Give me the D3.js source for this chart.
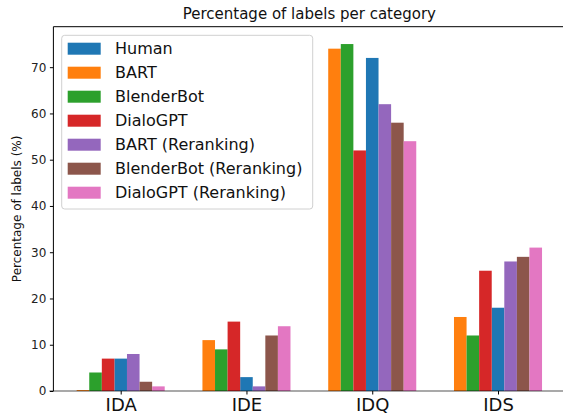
<!DOCTYPE html>
<html>
<head>
<meta charset="utf-8">
<script src="https://cdn.jsdelivr.net/npm/d3@7"></script>
<style>
  body { margin: 0; background: #fff; }
  svg { display: block; font-family: "DejaVu Sans", sans-serif; }
</style>
</head>
<body>
<svg id="chart" width="563" height="419"></svg>
<script>
var categories = ["IDA", "IDE", "IDQ", "IDS"]
var seriesNames = ["Human", "BART", "BlenderBot", "DialoGPT", "BART (Reranking)", "BlenderBot (Reranking)", "DialoGPT (Reranking)"]
var human = [7, 3, 72, 18]
var bart = [0.2, 11, 74, 16]
var blenderbot = [4, 9, 75, 12]
var dialogpt = [7, 15, 52, 26]
var bartRerank = [8, 1, 62, 28]
var blenderbotRerank = [2, 12, 58, 29]
var dialogptRerank = [1, 14, 54, 31]
var yTicks = [0, 10, 20, 30, 40, 50, 60, 70]

var colors = ["#1f77b4", "#ff7f0e", "#2ca02c", "#d62728", "#9467bd", "#8c564b", "#e377c2"]
// bar slot relative to tick, in units of bar width (human sits in the middle)
var slots = [0, -3, -2, -1, 1, 2, 3]
var barW = 0.1

var series = [human, bart, blenderbot, dialogpt, bartRerank, blenderbotRerank, dialogptRerank]

var svg = d3.select('#chart')
var mLeft = 53.4, mRight = 565.3, mTop = 26.7, mBottom = 391

var x = d3.scaleLinear().domain([-0.535, 3.535]).range([mLeft, mRight])
var y = d3.scaleLinear().domain([0, 78.75]).range([mBottom, mTop])

// bars
series.forEach(function(vals, s) {
    svg.append('g').selectAll('rect')
        .data(vals)
        .enter()
        .append('rect')
        .attr('x', (d, i) => x(i + slots[s] * barW - barW / 2))
        .attr('width', (d, i) => x(i + barW / 2) - x(i - barW / 2))
        .attr('y', d => y(d))
        .attr('height', d => y(0) - y(d))
        .attr('fill', colors[s])
})

// y axis
var yAxis = svg.append('g')
    .attr('transform', 'translate(' + mLeft + ',0)')
    .call(d3.axisLeft(y).tickValues(yTicks).tickSize(3.5).tickPadding(3.5))
yAxis.select('.domain').remove()
yAxis.selectAll('text').attr('font-size', 12).attr('fill', '#222').attr('font-family', 'DejaVu Sans')
yAxis.selectAll('line').attr('stroke', '#000')

// x axis
var xAxis = svg.append('g')
    .attr('transform', 'translate(0,' + mBottom + ')')
    .call(d3.axisBottom(x).tickValues(d3.range(categories.length))
        .tickFormat(i => categories[i]).tickSize(3.5).tickPadding(4))
xAxis.select('.domain').remove()
xAxis.selectAll('text').attr('font-size', 18).attr('fill', '#111').attr('font-family', 'DejaVu Sans')
xAxis.selectAll('line').attr('stroke', '#000')

// spines
svg.append('line').attr('x1', mLeft).attr('x2', mLeft).attr('y1', mTop).attr('y2', mBottom)
    .attr('stroke', '#000').attr('stroke-width', 1)
svg.append('line').attr('x1', mLeft).attr('x2', mRight).attr('y1', mTop).attr('y2', mTop)
    .attr('stroke', '#000').attr('stroke-width', 1)
svg.append('line').attr('x1', mLeft - 4).attr('x2', mRight).attr('y1', mBottom).attr('y2', mBottom)
    .attr('stroke', '#000').attr('stroke-opacity', 0.45).attr('stroke-width', 1.6)

// title + y label
svg.append('text')
    .attr('x', (mLeft + mRight) / 2).attr('y', 19)
    .attr('text-anchor', 'middle')
    .attr('font-size', 15).attr('fill', '#111')
    .text('Percentage of labels per category')

svg.append('text')
    .attr('transform', 'translate(21,' + (mTop + mBottom) / 2 + ') rotate(-90)')
    .attr('text-anchor', 'middle')
    .attr('font-size', 12).attr('fill', '#111')
    .text('Percentage of labels (%)')

// legend
var lg = svg.append('g')
lg.append('rect')
    .attr('x', 61.7).attr('y', 35.3).attr('width', 251).attr('height', 173.7)
    .attr('rx', 3).attr('fill', '#fff').attr('fill-opacity', 0.8)
    .attr('stroke', '#d0d0d0').attr('stroke-width', 1)
seriesNames.forEach(function(name, i) {
    var cy = 48.7 + i * 24
    lg.append('rect')
        .attr('x', 67.7).attr('y', cy - 6).attr('width', 33).attr('height', 12)
        .attr('fill', colors[i])
    lg.append('text')
        .attr('x', 115).attr('y', cy)
        .attr('dy', '0.36em')
        .attr('font-size', 16).attr('fill', '#111')
        .text(name)
})
</script>
</body>
</html>
